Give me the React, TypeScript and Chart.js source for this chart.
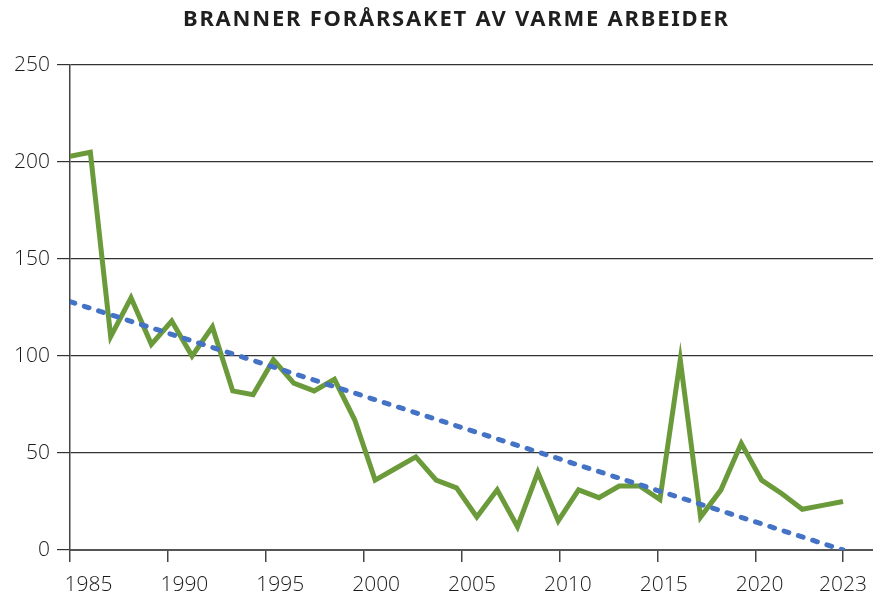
import React, { useEffect, useRef } from 'react';
import { Chart, registerables } from 'chart.js';

Chart.register(...registerables);

const TITLE = 'BRANNER FORÅRSAKET AV VARME ARBEIDER';

const years = [
  1985, 1986, 1987, 1988, 1989, 1990, 1991, 1992, 1993, 1994,
  1995, 1996, 1997, 1998, 1999, 2000, 2001, 2002, 2003, 2004,
  2005, 2006, 2007, 2008, 2009, 2010, 2011, 2012, 2013, 2014,
  2015, 2016, 2017, 2018, 2019, 2020, 2021, 2022, 2023,
];

const fires = [
  203, 205, 110, 130, 106, 118, 100, 115, 82, 80,
  98, 86, 82, 88, 67, 36, 42, 48, 36, 32,
  17, 31, 12, 40, 15, 31, 27, 33, 33, 26,
  98, 17, 31, 55, 36, 29, 21, 23, 25,
];

const trendYears = [1985, 2023];
const trendValues = [128, 0];

const xTickLabels = ['1985', '1990', '1995', '2000', '2005', '2010', '2015', '2020', '2023'];
const yTickValues = [0, 50, 100, 150, 200, 250];

const FONT_FAMILY = '"Open Sans", sans-serif';
const X_MIN = 1985;
const X_MAX = 2024.475;
// designed spacing of the printed tick marks / labels (in axis units)
const TICK_STEP = 4.817;
const LABEL_START = 1985.91;
const LABEL_STEP = 4.713;

const titlePlugin = {
  id: 'customTitle',
  afterDraw(chart: any) {
    const ctx = chart.ctx as CanvasRenderingContext2D;
    ctx.save();
    const family = '"Noto Sans", sans-serif';
    const targetWidth = 545;
    const spacing = 1;
    (ctx as any).letterSpacing = '0px';
    ctx.font = `700 20px ${family}`;
    const w20 = ctx.measureText(TITLE).width;
    const size = Math.min(22, (20 * (targetWidth - spacing * (TITLE.length - 1))) / w20);
    ctx.font = `700 ${size}px ${family}`;
    const w = ctx.measureText(TITLE).width;
    const sp = (targetWidth - w) / (TITLE.length - 1);
    (ctx as any).letterSpacing = `${sp}px`;
    ctx.fillStyle = '#1f1f1f';
    ctx.textBaseline = 'middle';
    ctx.textAlign = 'left';
    ctx.fillText(TITLE, 455.5 - targetWidth / 2, 20);
    ctx.restore();
  },
};

const noPad = (scale: any) => {
  scale.paddingLeft = 0;
  scale.paddingRight = 0;
  scale.paddingTop = 0;
  scale.paddingBottom = 0;
};

export default function App() {
  const canvasRef = useRef<HTMLCanvasElement | null>(null);

  useEffect(() => {
    if (!canvasRef.current) return;
    const last = xTickLabels.length - 1;
    const chart = new Chart(canvasRef.current, {
      type: 'line',
      data: {
        datasets: [
          {
            label: 'Branner',
            data: years.map((y, i) => ({ x: y, y: fires[i] })),
            borderColor: '#6b9a3b',
            borderWidth: 5,
            pointRadius: 0,
            tension: 0,
            borderJoinStyle: 'miter',
            order: 1,
            xAxisID: 'x',
            yAxisID: 'y',
          },
          {
            label: 'Trend',
            data: trendYears.map((y, i) => ({ x: y, y: trendValues[i] })),
            borderColor: '#4472c4',
            borderWidth: 5,
            borderDash: [5, 10],
            borderCapStyle: 'round',
            pointRadius: 0,
            order: 0,
            xAxisID: 'x',
            yAxisID: 'y',
          },
        ],
      },
      options: {
        responsive: false,
        animation: false,
        devicePixelRatio: 1,
        layout: { padding: { top: 65, left: 0, right: 0, bottom: 0 } },
        plugins: {
          legend: { display: false },
          tooltip: { enabled: false },
          title: { display: false },
        },
        scales: {
          x: {
            type: 'linear',
            position: 'bottom',
            min: X_MIN,
            max: X_MAX,
            weight: 0,
            afterBuildTicks: (scale: any) => {
              scale.ticks = xTickLabels.map((l, i) => ({
                value: i === last ? Number(l) : X_MIN + i * TICK_STEP,
              }));
            },
            afterFit: (scale: any) => {
              scale.height = 12;
              noPad(scale);
            },
            ticks: { display: false },
            grid: {
              drawOnChartArea: false,
              drawTicks: true,
              tickLength: 12,
              color: '#444',
              lineWidth: 1.5,
            },
            border: { display: true, color: '#555', width: 2 },
          },
          xl: {
            type: 'linear',
            position: 'bottom',
            min: X_MIN,
            max: X_MAX,
            weight: 1,
            afterBuildTicks: (scale: any) => {
              scale.ticks = xTickLabels.map((l, i) => ({
                value: i === last ? Number(l) : LABEL_START + i * LABEL_STEP,
              }));
            },
            afterFit: (scale: any) => {
              scale.height = 42;
              noPad(scale);
            },
            ticks: {
              autoSkip: false,
              maxRotation: 0,
              padding: 10,
              color: '#1a1a1a',
              font: { family: FONT_FAMILY, size: 21, weight: 300 as any },
              callback: (_v: any, i: number) => xTickLabels[i],
            },
            grid: { display: false, drawTicks: false },
            border: { display: false },
          },
          y: {
            type: 'linear',
            min: 0,
            max: 250,
            afterBuildTicks: (scale: any) => {
              scale.ticks = yTickValues.map((v) => ({ value: v }));
            },
            afterFit: (scale: any) => {
              scale.width = 70;
              noPad(scale);
            },
            ticks: {
              padding: 7,
              color: '#1a1a1a',
              font: { family: FONT_FAMILY, size: 21, weight: 300 as any },
            },
            grid: {
              color: '#333',
              lineWidth: 1.2,
              drawTicks: true,
              tickLength: 13,
            },
            border: { display: true, color: '#444', width: 1.5 },
          },
        },
      },
      plugins: [titlePlugin],
    });
    return () => chart.destroy();
  }, []);

  return (
    <div style={{ position: 'absolute', left: 0, top: 0, width: 873, height: 604, background: '#fff' }}>
      <canvas ref={canvasRef} width={873} height={604} style={{ display: 'block' }} />
    </div>
  );
}
